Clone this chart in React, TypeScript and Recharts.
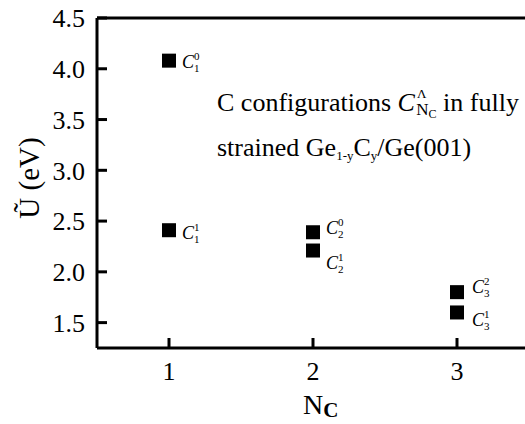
import { ScatterChart, Scatter, XAxis, YAxis, ReferenceLine, Customized } from 'recharts';

const ncValues = [1, 1, 2, 2, 3, 3];
const energyValues = [4.08, 2.41, 2.39, 2.21, 1.8, 1.6];
const subLabels = ['1', '1', '2', '2', '3', '3'];
const supLabels = ['0', '1', '0', '1', '2', '1'];
const xTicks = [1, 2, 3];
const yTicks = [1.5, 2, 2.5, 3, 3.5, 4, 4.5];

const points = ncValues.map((nc, i) => ({
  nc,
  u: energyValues[i],
  sub: subLabels[i],
  sup: supLabels[i],
}));

const serif = '"Liberation Serif", "Times New Roman", serif';

// baseline of each point label, measured from the marker centre
const labelDy: Record<string, number> = {
  '1-0': 7,
  '1-1': 9,
  '2-0': 2,
  '2-1': 18,
  '3-2': 1,
  '3-1': 14,
};

const SquareWithLabel = (props: any) => {
  const { cx, cy, payload } = props;
  const dy = labelDy[`${payload.sub}-${payload.sup}`] ?? 6;
  const lx = cx + (payload.sub === '3' ? 15 : 13);
  return (
    <g>
      <rect x={cx - 7} y={cy - 7} width={14} height={14} fill="#000" />
      <text x={lx} y={cy + dy} fontFamily={serif} fontStyle="italic" fontSize={18} fill="#000">
        C
      </text>
      <text x={lx + 12} y={cy + dy - 8} fontFamily={serif} fontSize={11} fill="#000">
        {payload.sup}
      </text>
      <text x={lx + 12} y={cy + dy + 4} fontFamily={serif} fontSize={11} fill="#000">
        {payload.sub}
      </text>
    </g>
  );
};

const Annotations = () => (
  <g fontFamily={serif} fill="#000">
    <text x={217} y={111} fontSize={26}>
      C configurations <tspan fontStyle="italic">C</tspan>
      <tspan fontSize={13} dx={2} dy={-13}>Λ</tspan>
      <tspan fontSize={17} dx={-10} dy={17}>N</tspan>
      <tspan fontSize={12} dy={3}>C</tspan>
      <tspan dy={-7}> in fully</tspan>
    </text>
    <text x={217} y={156} fontSize={26}>
      strained Ge<tspan fontSize={13} dy={4}>1-y</tspan>
      <tspan dy={-4}>C</tspan>
      <tspan fontSize={13} dy={4}>y</tspan>
      <tspan dy={-4}>/Ge(001)</tspan>
    </text>
    <text x={39} y={178} fontSize={29} textAnchor="middle" transform="rotate(-90, 39, 178)">
      Ũ (eV)
    </text>
    <text x={303} y={414} fontSize={28}>
      N<tspan fontSize={21} fontWeight="bold" dy={3}>C</tspan>
    </text>
  </g>
);

export default function App() {
  return (
    <div style={{ position: 'absolute', left: 0, top: 0, width: 525, height: 424, overflow: 'hidden', background: '#fff' }}>
      <ScatterChart width={545} height={424} margin={{ top: 18, right: 16, bottom: 16, left: 37 }}>
        <XAxis
          type="number"
          dataKey="nc"
          domain={[0.5, 3.5]}
          ticks={xTicks}
          height={60}
          tickSize={-10}
          tickMargin={24}
          axisLine={{ stroke: '#000', strokeWidth: 3 }}
          tickLine={{ stroke: '#000', strokeWidth: 3 }}
          tick={{ fill: '#000', fontSize: 26, fontFamily: serif }}
        />
        <YAxis
          type="number"
          dataKey="u"
          domain={[1.25, 4.5]}
          ticks={yTicks}
          width={60}
          tickSize={-10}
          tickMargin={22}
          tickFormatter={(v: number) => v.toFixed(1)}
          axisLine={{ stroke: '#000', strokeWidth: 3 }}
          tickLine={{ stroke: '#000', strokeWidth: 3 }}
          tick={{ fill: '#000', fontSize: 26, fontFamily: serif }}
        />
        <ReferenceLine y={4.5} stroke="#000" strokeWidth={3} />
        <ReferenceLine x={3.5} stroke="#000" strokeWidth={3} />
        <Scatter data={points} shape={SquareWithLabel} isAnimationActive={false} />
        <Customized component={Annotations} />
      </ScatterChart>
    </div>
  );
}
